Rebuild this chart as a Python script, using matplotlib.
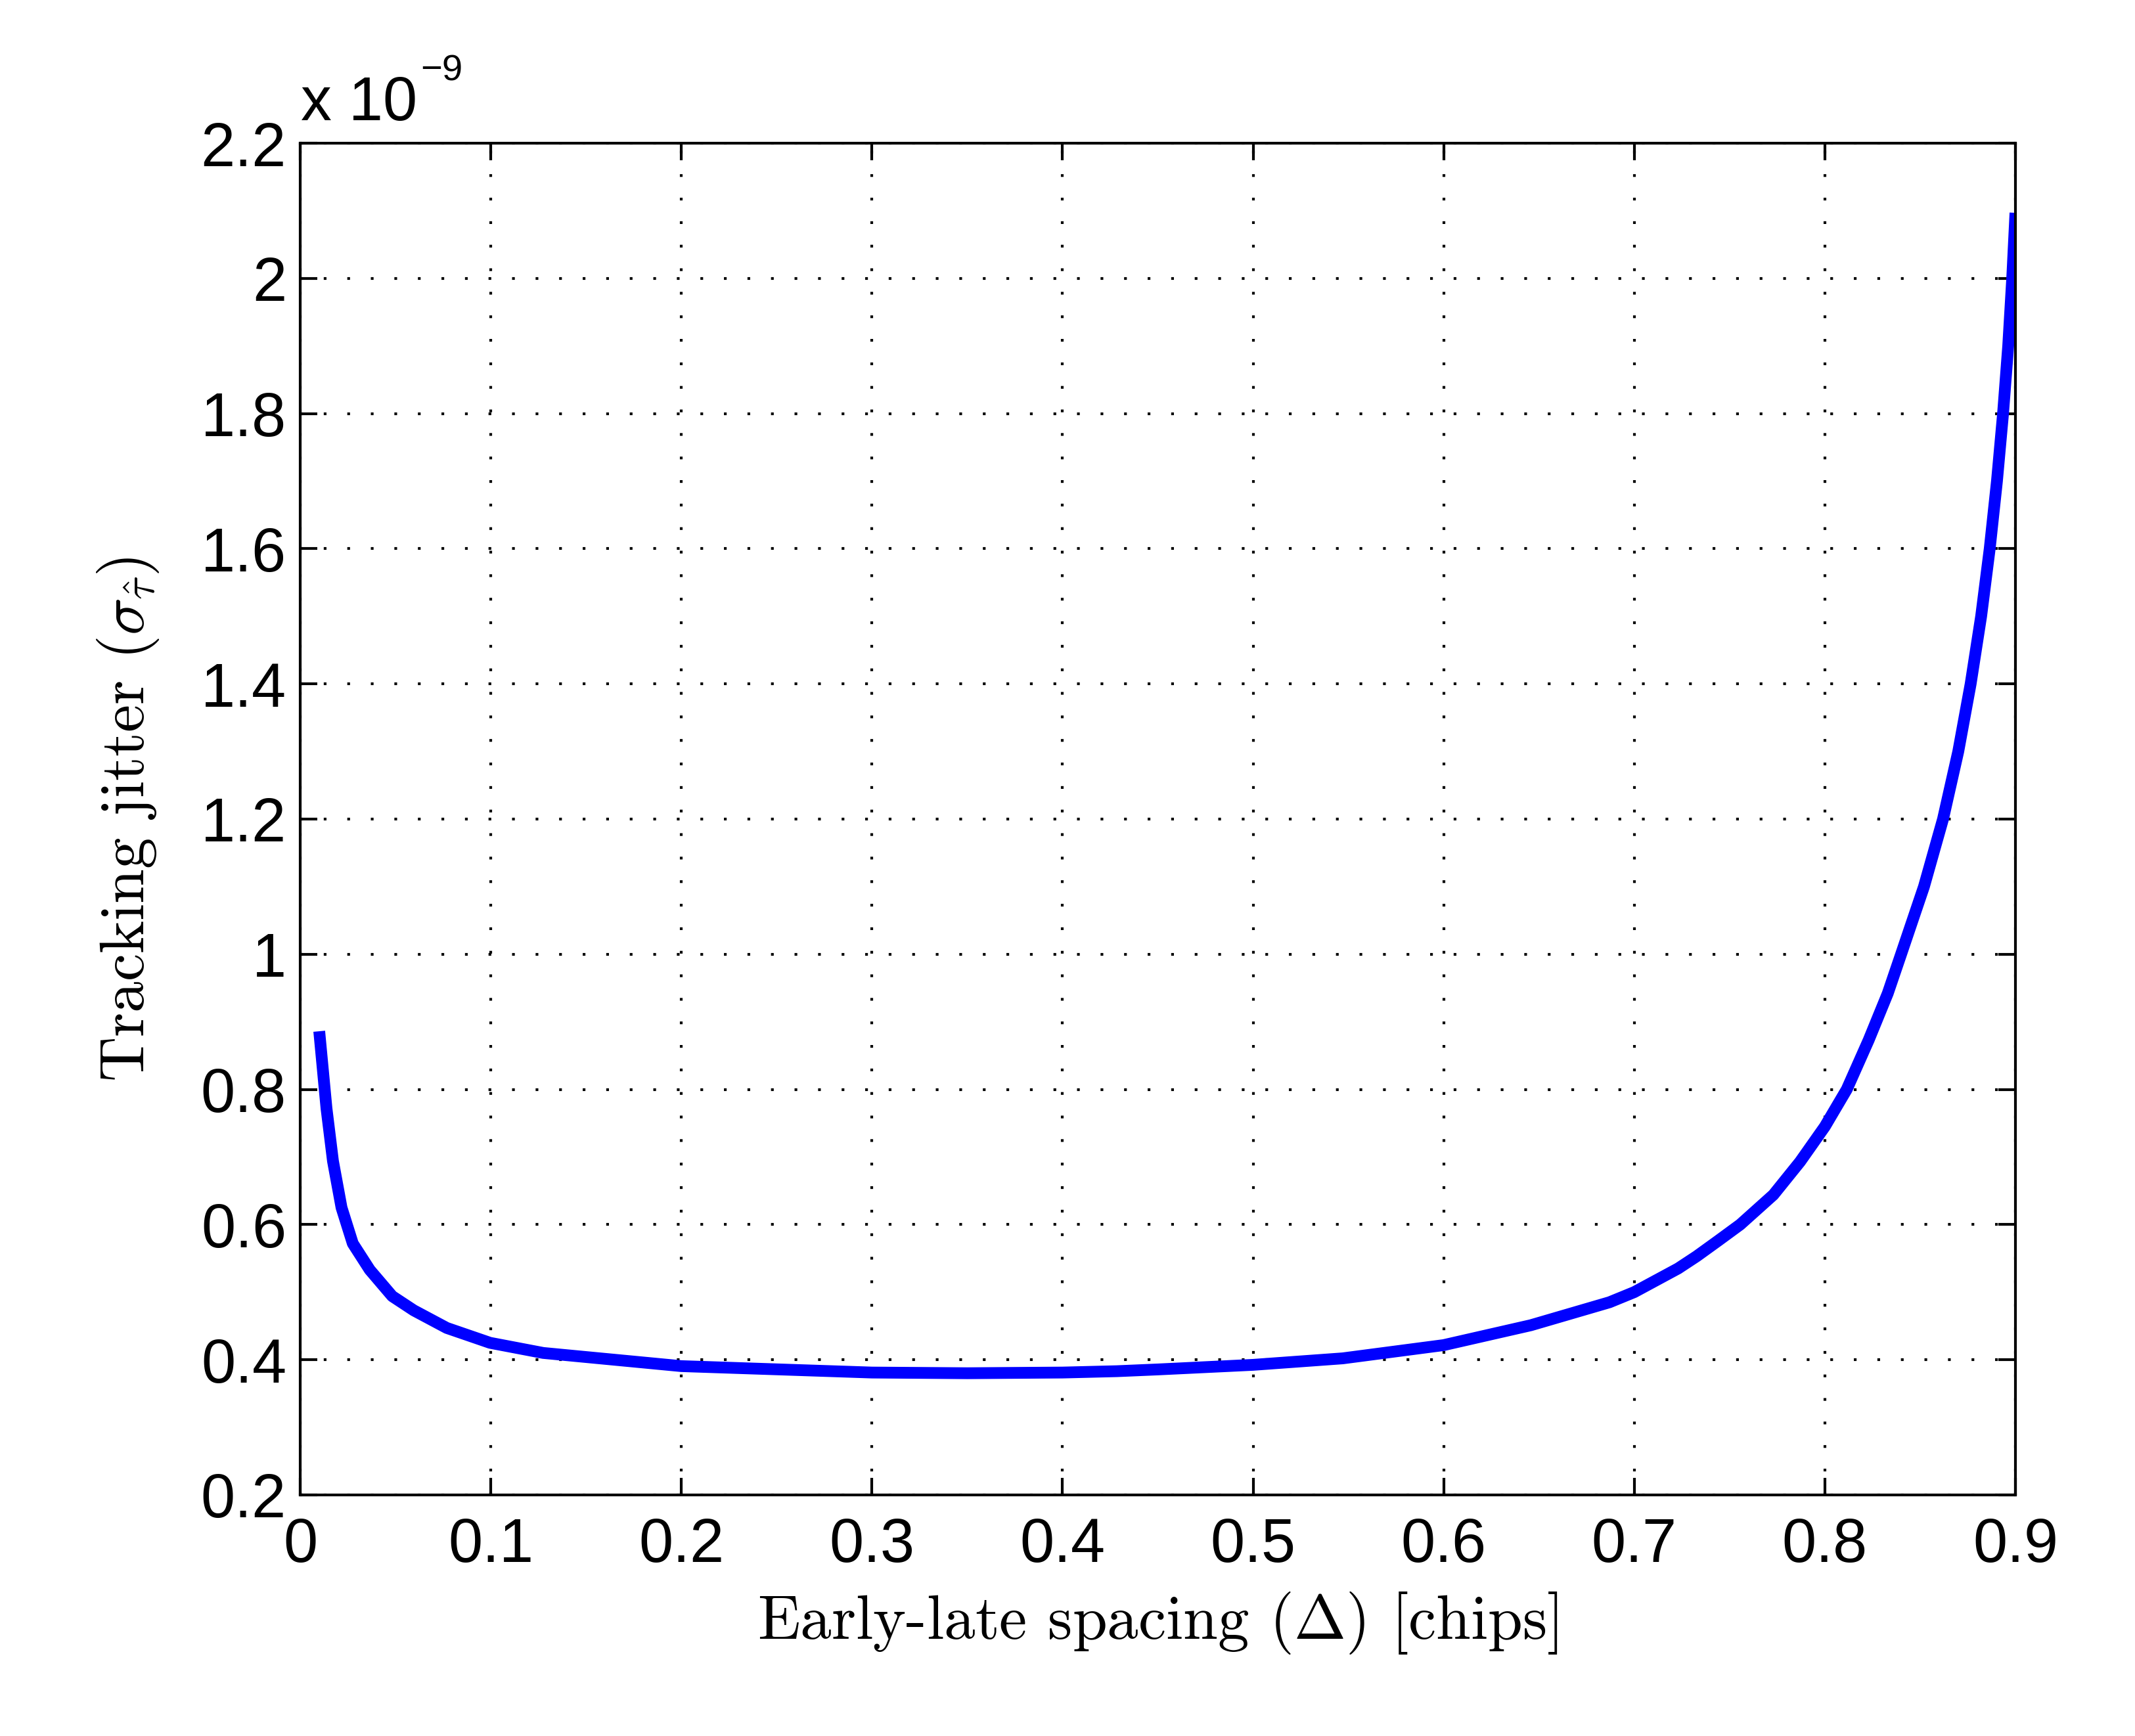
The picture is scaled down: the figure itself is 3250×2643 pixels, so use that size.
import matplotlib
matplotlib.use("Agg")
import matplotlib.pyplot as plt

# early-late spacing [chips] and tracking jitter [x 1e-9]
spacing = [0.010, 0.0138, 0.0172, 0.0217, 0.0276, 0.0365, 0.0483, 0.0596,
           0.0769, 0.0996, 0.1275, 0.20, 0.30, 0.35, 0.40, 0.4285, 0.45,
           0.50, 0.547, 0.60, 0.6457, 0.687, 0.70, 0.723, 0.7327, 0.744,
           0.7556, 0.773, 0.787, 0.80, 0.8115, 0.823, 0.833, 0.840, 0.852,
           0.862, 0.870, 0.8765, 0.882, 0.8865, 0.8903, 0.8935,
           0.8962, 0.8983, 0.900]
jitter = [0.886, 0.772, 0.694, 0.625, 0.572, 0.533, 0.494, 0.473,
          0.447, 0.425, 0.410, 0.3905, 0.381, 0.380, 0.381, 0.383, 0.3856,
          0.3924, 0.402, 0.4216, 0.451, 0.485, 0.500, 0.535, 0.553, 0.576,
          0.600, 0.644, 0.693, 0.745, 0.800, 0.873, 0.942, 1.000, 1.100,
          1.200, 1.300, 1.400, 1.500, 1.600, 1.700, 1.800,
          1.900, 2.000, 2.097]

xticks = [0, 0.1, 0.2, 0.3, 0.4, 0.5, 0.6, 0.7, 0.8, 0.9]
yticks = [0.2, 0.4, 0.6, 0.8, 1, 1.2, 1.4, 1.6, 1.8, 2, 2.2]
xtick_labels = ["0", "0.1", "0.2", "0.3", "0.4", "0.5", "0.6", "0.7", "0.8", "0.9"]
ytick_labels = ["0.2", "0.4", "0.6", "0.8", "1", "1.2", "1.4", "1.6", "1.8", "2", "2.2"]

plt.rcParams["mathtext.fontset"] = "cm"

fig = plt.figure(figsize=(3250 / 300, 2643 / 300), dpi=300)
ax = fig.add_axes([0.1406, 0.1389, 0.944 - 0.1406, 0.9175 - 0.1389])

ax.plot(spacing, jitter, color="#0000ff", linewidth=4.3,
        solid_capstyle="butt", solid_joinstyle="round")

ax.set_xlim(0, 0.9)
ax.set_ylim(0.2, 2.2)
ax.set_xticks(xticks)
ax.set_xticklabels(xtick_labels)
ax.set_yticks(yticks)
ax.set_yticklabels(ytick_labels)

for lab in ax.get_xticklabels() + ax.get_yticklabels():
    lab.set_fontfamily("Liberation Sans")
    lab.set_fontsize(22.5)

ax.tick_params(direction="in", length=6.2, width=1.0, top=True, right=True,
               colors="black")
ax.tick_params(axis="x", pad=8)
ax.tick_params(axis="y", pad=5)

ax.grid(True, color="black", linewidth=1.0, linestyle=(0, (1, 7.6)))
for sp in ax.spines.values():
    sp.set_linewidth(1.0)

ax.set_xlabel(r"Early-late spacing ($\Delta$) [chips]", fontfamily="cmr10",
              fontsize=22.8)
ax.set_ylabel(r"Tracking jitter ($\sigma_{\hat{\tau}}$)", fontfamily="cmr10",
              fontsize=22.8)
ax.xaxis.set_label_coords(0.5, -0.0705)
ax.yaxis.set_label_coords(-0.081, 0.5)
ax.xaxis.label.set_va("top")

# MATLAB-style exponent above the y axis
ax.text(0.0005, 1.017, "x 10", transform=ax.transAxes,
        fontfamily="Liberation Sans", fontsize=22.5, ha="left", va="baseline")
ax.text(0.0701, 1.0462, "\u22129", transform=ax.transAxes,
        fontfamily="Liberation Sans", fontsize=13.5, ha="left", va="baseline")

fig.savefig("out.png", dpi=300, facecolor="white")
